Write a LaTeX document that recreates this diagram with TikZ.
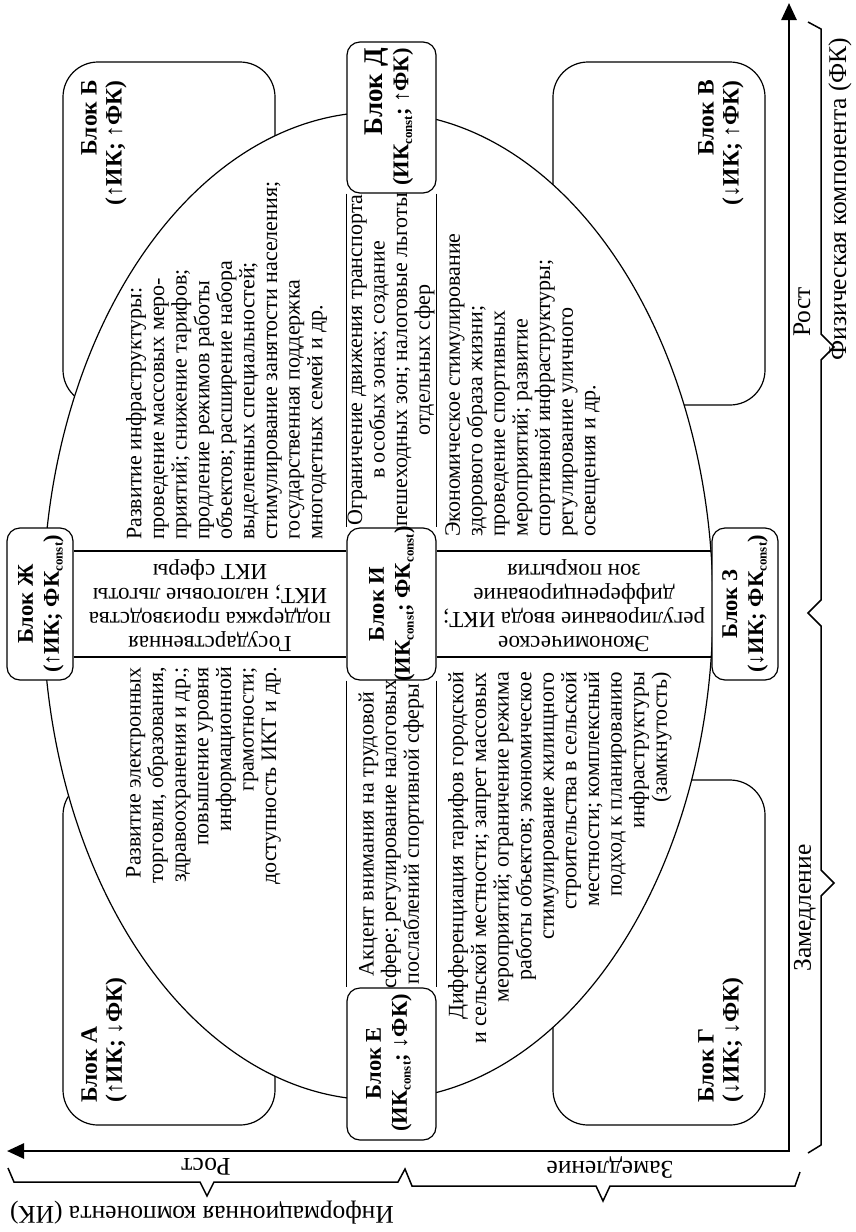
\documentclass[tikz,border=0pt]{standalone}
\usepackage{fontspec}
\setmainfont{Liberation Serif}
\usetikzlibrary{arrows.meta,shapes.geometric}
\newcommand\subconst{\raisebox{-0.35ex}{\fontsize{13}{13}\selectfont const}}

\begin{document}
\begin{tikzpicture}[x=1pt,y=-1pt,
  thinline/.style={line width=1.2pt},
  bigbox/.style={draw, thinline, rounded corners=35pt, minimum width=212pt, minimum height=343pt, inner sep=0pt},
  smallbox/.style={draw, thinline, fill=white, rounded corners=13pt, inner sep=0pt},
  body/.style={font=\fontsize{22}{22.6}\selectfont, inner sep=0pt},
  strip/.style={font=\fontsize{23}{24}\selectfont, inner sep=0pt, align=center},
  lbl/.style={font=\bfseries\fontsize{22.5}{26}\selectfont, inner sep=0pt},
  biglbl/.style={font=\bfseries\fontsize{23.5}{25}\selectfont, inner sep=0pt},
  axlbl/.style={font=\fontsize{25.5}{28}\selectfont, inner sep=0pt},
  axis/.style={line width=2.6pt, line join=miter, {Triangle[length=17pt,width=15pt]}-{Triangle[length=17pt,width=15pt]}},
  brace/.style={line width=1.5pt, line join=miter}
]
\useasboundingbox (0,0) rectangle (855,1232);

% corner blocks
\node[bigbox] (bB) at (169,233.5) {};
\node[bigbox] (bV) at (659,233.5) {};
\node[bigbox, minimum height=345pt] (bA) at (169,952.5) {};
\node[bigbox, minimum height=345pt] (bG) at (659,952.5) {};

% central ellipse
\node[ellipse, draw, thinline, fill=white, minimum width=670pt, minimum height=988pt, inner sep=0pt] (ell) at (378,606) {};

% axis-aligned blocks
\node[smallbox, minimum width=89pt, minimum height=151pt] (bD) at (391.5,117.5) {};
\node[smallbox, minimum width=89pt, minimum height=152pt] (bI) at (391.5,604) {};
\node[smallbox, minimum width=89pt, minimum height=152pt] (bE) at (391.5,1064) {};
\node[smallbox, minimum width=66pt, minimum height=152pt] (bZh) at (40,604) {};
\node[smallbox, minimum width=66pt, minimum height=152pt] (bZ) at (745,604) {};

% strips through the centre
\draw[thinline] (bD.south west) -- (bI.north west);
\draw[thinline] (bD.south east) -- (bI.north east);
\draw[thinline] (bI.south west) -- (bE.north west);
\draw[thinline] (bI.south east) -- (bE.north east);
\draw[thinline] ([yshift=53pt]bZh.east) -- ([yshift=53pt]bI.west);
\draw[thinline] ([yshift=-53pt]bZh.east) -- ([yshift=-53pt]bI.west);
\draw[thinline] ([yshift=53pt]bI.east) -- ([yshift=53pt]bZ.west);
\draw[thinline] ([yshift=-53pt]bI.east) -- ([yshift=-53pt]bZ.west);

% block titles
\node[biglbl, rotate=90, align=right, anchor=east] (tB) at (104,80) {Блок Б\\(↑ИК; ↑ФК)};
\node[biglbl, rotate=90, align=right, anchor=east] (tV) at (721,80) {Блок В\\(↓ИК; ↑ФК)};
\node[biglbl, rotate=90, align=left, anchor=west] (tA) at (104,1103) {Блок А\\(↑ИК; ↓ФК)};
\node[biglbl, rotate=90, align=left, anchor=west] (tG) at (721,1103) {Блок Г\\(↓ИК; ↓ФК)};
\node[lbl, rotate=90, align=right, anchor=east] (tD) at (389,48) {{\fontsize{27}{26}\selectfont Блок Д}\\(ИК\subconst; ↑ФК)};
\node[lbl, rotate=90, align=center] (tE) at (389,1063) {Блок Е\\(ИК\subconst; ↓ФК)};
\node[lbl, rotate=90, align=center] (tI) at (392,604) {Блок И\\(ИК\subconst; ФК\subconst)};
\node[lbl, rotate=90, align=center] (tZh) at (41,604) {Блок Ж\\(↑ИК; ФК\subconst)};
\node[lbl, rotate=90, align=center] (tZ) at (745,604) {Блок З\\(↓ИК; ФК\subconst)};

% measures, quadrant by quadrant
\node[body, rotate=90, align=left, anchor=north west] (mTL) at (126,540) {Развитие инфраструктуры:\\проведение массовых меро-\\приятий; снижение тарифов;\\продление режимов работы\\объектов; расширение набора\\выделенных специальностей;\\стимулирование занятости населения;\\государственная поддержка\\многодетных семей и др.};
\node[body, rotate=90, align=right, anchor=north east] (mBL) at (126,667) {Развитие электронных\\торговли, образования,\\здравоохранения и др.;\\повышение уровня\\информационной\\грамотности;\\доступность ИКТ и др.};
\node[body, rotate=90, align=left, anchor=north west] (mTR) at (445,537) {Экономическое стимулирование\\здорового образа жизни;\\проведение спортивных\\мероприятий; развитие\\спортивной инфраструктуры;\\регулирование уличного\\освещения и др.};
\node[body, rotate=90, align=right, anchor=north east] (mBR) at (448,672) {Дифференциация тарифов городской\\и сельской местности; запрет массовых\\мероприятий; ограничение режима\\работы объектов; экономическое\\стимулирование жилищного\\строительства в сельской\\местности; комплексный\\подход к планированию\\инфраструктуры\\(замкнутость)};
\node[body, rotate=90, align=center] (mTS) at (391,360) {Ограничение движения транспорта\\в особых зонах; создание\\пешеходных зон; налоговые льготы\\отдельных сфер};
\node[body, rotate=90, align=center] (mBS) at (391,834) {Акцент внимания на трудовой\\сфере; регулирование налоговых\\послаблений спортивной сферы};
\node[strip, rotate=180] (mLS) at (210,606) {Государственная\\поддержка производства\\ИКТ; налоговые льготы\\ИКТ сферы};
\node[strip, rotate=180] (mRS) at (574,606) {Экономическое\\регулирование ввода ИКТ;\\дифференцирование\\зон покрытия};

% axes
\coordinate (O) at (789,1151);
\coordinate (yEnd) at (789,3);
\coordinate (xEnd) at (7,1151);
\draw[axis] (yEnd) -- (O) -- (xEnd);

% braces
\draw[brace] (808,22) -- (821,29) -- (821,334) -- (834,347) -- (821,360) -- (821,600) -- (808,613) -- (821,626) -- (821,870) -- (834,883) -- (821,896) -- (821,1145) -- (808,1153);
\draw[brace] (8,1168) -- (14,1182) -- (200,1182) -- (207,1196) -- (214,1182) -- (398,1182) -- (405,1169) -- (412,1186) -- (596,1186) -- (603,1201) -- (610,1186) -- (795,1186) -- (800,1172);

% axis captions
\node[axlbl, rotate=90] (cRostV) at (802,312) {Рост};
\node[axlbl, rotate=90] (cFK) at (840,199) {Физическая компонента (ФК)};
\node[axlbl, rotate=90] (cZamV) at (805,908) {Замедление};
\node[axlbl, rotate=180] (cRostH) at (206,1167) {Рост};
\node[axlbl, rotate=180] (cZamH) at (610,1167) {Замедление};
\node[axlbl, rotate=180] (cIK) at (202,1213) {Информационная компонента (ИК)};
\end{tikzpicture}
\end{document}
